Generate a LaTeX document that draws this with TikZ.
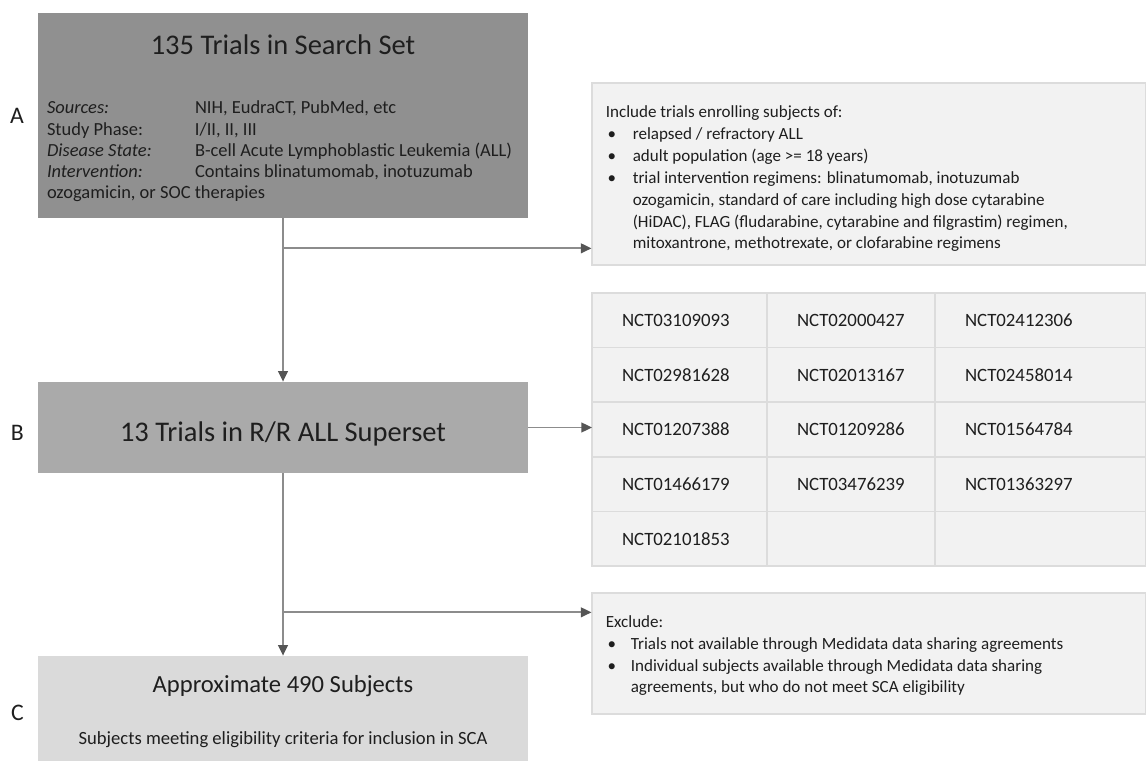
\documentclass[tikz,border=0pt]{standalone}
\usepackage{fontspec}
\setmainfont{Carlito}
\usetikzlibrary{positioning,arrows.meta}

\definecolor{searchgrey}{RGB}{144,144,144}
\definecolor{supergrey}{RGB}{170,170,170}
\definecolor{subjgrey}{RGB}{218,218,218}
\definecolor{panelgrey}{RGB}{242,242,242}
\definecolor{panelline}{RGB}{220,220,220}
\definecolor{linkgrey}{RGB}{140,140,140}
\definecolor{tipgrey}{RGB}{85,85,85}
\definecolor{inkgrey}{RGB}{30,30,30}

\tikzstyle{arrow} = [line width=1.1pt, draw=linkgrey, -{Triangle[length=6pt,width=5.5pt,color=tipgrey]}]
\tikzstyle{stage} = [
        rectangle,
        minimum width=9.8cm,
        inner sep=0pt
    ]
\tikzstyle{panel} = [
        rectangle,
        minimum width=11.08cm,
        inner sep=0pt,
        draw=panelline,
        fill=panelgrey,
        line width=0.6pt
    ]
\tikzstyle{cell} = [
        rectangle,
        minimum height=1.092cm,
        inner xsep=0.6cm,
        inner ysep=0pt,
        outer sep=0pt,
        draw=panelline,
        fill=panelgrey,
        line width=0.8pt,
        align=left,
        text=inkgrey,
        font=\fontsize{10.7}{12}\selectfont
    ]
\tikzstyle{steplabel} = [inner sep=0pt, text=inkgrey, font=\fontsize{13.5}{16}\selectfont]
\tikzstyle{bigtitle} = [inner sep=0pt, text=inkgrey, font=\fontsize{16.2}{19}\selectfont]
\tikzstyle{bodytext} = [inner sep=0pt, text=inkgrey, align=left, anchor=north west]

\begin{document}
\begin{tikzpicture}
    \useasboundingbox (0,0) rectangle (22.92,-15.22);

    % left column: the three stages
    \node [stage, fill=searchgrey, minimum height=4.1cm] (search) at (5.66,-2.31) {};
    \node [bigtitle] (searchtitle) at ([yshift=-0.64cm]search.north) {135 Trials in Search Set};
    \node [bodytext, font=\fontsize{10.5}{12.1}\selectfont] (searchinfo) at ([xshift=0.18cm, yshift=-1.76cm]search.north west)
        {\makebox[2.96cm][l]{\textit{Sources:}}NIH, EudraCT, PubMed, etc\\
         \makebox[2.96cm][l]{Study Phase:}I/II, II, III\\
         \makebox[2.96cm][l]{\textit{Disease State:}}B-cell Acute Lymphoblastic Leukemia (ALL)\\
         \makebox[2.96cm][l]{\textit{Intervention:}}Contains blinatumomab, inotuzumab\\
         ozogamicin, or SOC therapies};

    \node [stage, fill=supergrey, minimum height=1.82cm] (superset) at (5.66,-8.55) {};
    \node [bigtitle] (supertitle) at ([yshift=-0.12cm]superset.center) {13 Trials in R/R ALL Superset};

    \node [stage, fill=subjgrey, minimum height=2.1cm] (subjects) at (5.66,-14.17) {};
    \node [inner sep=0pt, text=inkgrey, font=\fontsize{14}{17}\selectfont] (subjtitle) at ([yshift=-0.6cm]subjects.north) {Approximate 490 Subjects};
    \node [inner sep=0pt, text=inkgrey, font=\fontsize{10.6}{12}\selectfont] (subjnote) at ([yshift=-1.68cm]subjects.north) {Subjects meeting eligibility criteria for inclusion in SCA};

    \node [steplabel, left=0.27cm of search] (stepA) {A};
    \node [steplabel, left=0.27cm of superset, yshift=-0.1cm] (stepB) {B};
    \node [steplabel, left=0.27cm of subjects, yshift=-0.08cm] (stepC) {C};

    % right column: criteria and trial list
    \node [panel, minimum height=3.64cm] (include) at (17.38,-3.48) {};
    \node [bodytext, font=\fontsize{9.7}{12.5}\selectfont] (includetext) at ([xshift=0.28cm, yshift=-0.38cm]include.north west)
        {\begin{tabular}{@{}p{0.54cm}@{}l@{}}
         \multicolumn{2}{@{}l@{}}{Include trials enrolling subjects of:}\\
         \hspace*{1pt}\textbullet & relapsed / refractory ALL\\
         \hspace*{1pt}\textbullet & adult population (age >= 18 years)\\
         \hspace*{1pt}\textbullet & trial intervention regimens: blinatumomab, inotuzumab\\
          & ozogamicin, standard of care including high dose cytarabine\\
          & (HiDAC), FLAG (fludarabine, cytarabine and filgrastim) regimen,\\
          & mitoxantrone, methotrexate, or clofarabine regimens
         \end{tabular}};

    \node [cell, text width=2.3cm, anchor=north west] (g11) at (11.84,-5.86) {NCT03109093};
    \node [cell, text width=2.16cm, right=0pt of g11] (g12) {NCT02000427};
    \node [cell, text width=3.02cm, right=0pt of g12] (g13) {NCT02412306};
    \node [cell, text width=2.3cm, below=0pt of g11] (g21) {NCT02981628};
    \node [cell, text width=2.16cm, right=0pt of g21] (g22) {NCT02013167};
    \node [cell, text width=3.02cm, right=0pt of g22] (g23) {NCT02458014};
    \node [cell, text width=2.3cm, below=0pt of g21] (g31) {NCT01207388};
    \node [cell, text width=2.16cm, right=0pt of g31] (g32) {NCT01209286};
    \node [cell, text width=3.02cm, right=0pt of g32] (g33) {NCT01564784};
    \node [cell, text width=2.3cm, below=0pt of g31] (g41) {NCT01466179};
    \node [cell, text width=2.16cm, right=0pt of g41] (g42) {NCT03476239};
    \node [cell, text width=3.02cm, right=0pt of g42] (g43) {NCT01363297};
    \node [cell, text width=2.3cm, below=0pt of g41] (g51) {NCT02101853};
    \node [cell, text width=2.16cm, right=0pt of g51] (g52) {};
    \node [cell, text width=3.02cm, right=0pt of g52] (g53) {};

    \node [panel, minimum height=2.42cm] (exclude) at (17.38,-13.07) {};
    \node [bodytext, font=\fontsize{9.7}{12.3}\selectfont] (excludetext) at ([xshift=0.28cm, yshift=-0.4cm]exclude.north west)
        {\begin{tabular}{@{}p{0.5cm}@{}l@{}}
         \multicolumn{2}{@{}l@{}}{Exclude:}\\
         \hspace*{1pt}\textbullet & Trials not available through Medidata data sharing agreements\\
         \hspace*{1pt}\textbullet & Individual subjects available through Medidata data sharing\\
          & agreements, but who do not meet SCA eligibility
         \end{tabular}};

    % connectors
    \coordinate (forkA) at ([yshift=-0.6cm]search.south);
    \coordinate (forkB) at ([yshift=-2.78cm]superset.south);
    \draw [arrow] (search.south) -- (superset.north);
    \draw [arrow] (forkA) -- (forkA -| include.west);
    \draw [arrow] (superset.east) -- (superset.east -| g31.west);
    \draw [arrow] (superset.south) -- (subjects.north);
    \draw [arrow] (forkB) -- (forkB -| exclude.west);
\end{tikzpicture}
\end{document}
